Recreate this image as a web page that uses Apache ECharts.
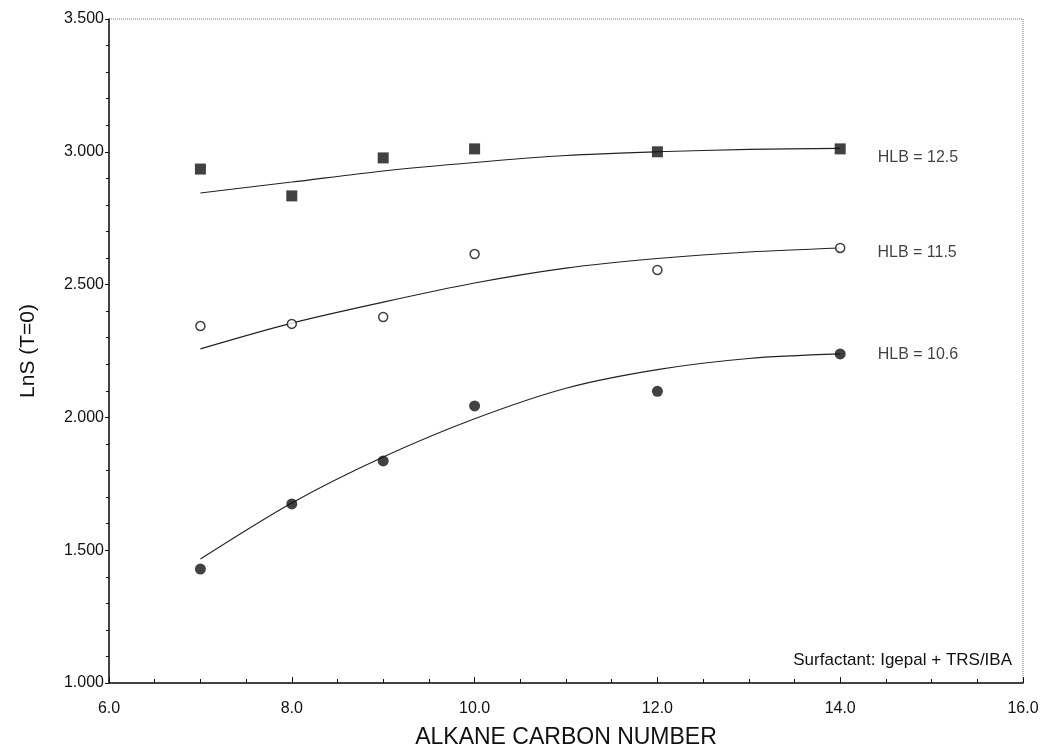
<!DOCTYPE html>
<html>
<head>
<meta charset="utf-8">
<title>LnS (T=0) vs Alkane Carbon Number</title>
<script src="https://cdn.jsdelivr.net/npm/echarts@6/dist/echarts.min.js"></script>
<style>
  html, body { margin: 0; padding: 0; background: #fff; }
  #chart { width: 1045px; height: 753px; }
</style>
</head>
<body>
<div id="chart"></div>
<script>
// Measured points: alkane carbon number vs LnS (T=0)
const carbonNumbers = [7, 8, 9, 10, 12, 14];
const hlb125Points = [2.935, 2.834, 2.977, 3.011, 3.000, 3.011];
const hlb115Points = [2.344, 2.352, 2.378, 2.615, 2.555, 2.638];
const hlb106Points = [1.429, 1.674, 1.836, 2.043, 2.098, 2.239];

// Fitted curves through each series
const fitCarbon = [7, 8, 9, 10, 11, 12, 13, 14];
const hlb125Fit = [2.845, 2.886, 2.928, 2.960, 2.986, 3.000, 3.009, 3.013];
const hlb115Fit = [2.258, 2.355, 2.434, 2.506, 2.562, 2.598, 2.623, 2.638];
const hlb106Fit = [1.467, 1.678, 1.851, 1.995, 2.110, 2.180, 2.222, 2.239];

const seriesNames = ['HLB = 12.5', 'HLB = 11.5', 'HLB = 10.6'];
const yTickLabels = ['1.000', '1.500', '2.000', '2.500', '3.000', '3.500'];
const xTickLabels = ['6.0', '8.0', '10.0', '12.0', '14.0', '16.0'];
const noteText = 'Surfactant: Igepal + TRS/IBA';

const FONT = '"Liberation Sans", Arial, Helvetica, sans-serif';

function pairs(xs, ys) { return xs.map((x, i) => [x, ys[i]]); }

// Attach the HLB label to the last measured point of a series
function withEndLabel(xs, ys, text, dy) {
  return xs.map((x, i) => {
    if (i !== xs.length - 1) return [x, ys[i]];
    return {
      value: [x, ys[i]],
      label: {
        show: true, position: 'right', distance: 32, offset: [0, dy],
        formatter: text, color: '#111', fontFamily: FONT, fontSize: 16
      }
    };
  });
}

function fitLine(ys) {
  return {
    type: 'line', data: pairs(fitCarbon, ys), smooth: 0.3,
    showSymbol: false, silent: true, z: 1,
    lineStyle: { color: '#222', width: 1.1 }
  };
}

const chart = echarts.init(document.getElementById('chart'), null, { renderer: 'canvas' });

chart.setOption({
  animation: false,
  backgroundColor: '#fff',
  grid: {
    left: 109, right: 22, top: 19, bottom: 70,
    outerBoundsMode: 'none',
    show: true, borderColor: '#777', borderWidth: 1, borderType: 'dotted'
  },
  xAxis: {
    type: 'value', min: 6, max: 16, interval: 2,
    name: 'ALKANE CARBON NUMBER', nameLocation: 'middle', nameGap: 43,
    nameTextStyle: { fontFamily: FONT, fontSize: 23, color: '#111' },
    axisLine: { lineStyle: { color: '#111', width: 1.5 } },
    axisTick: { inside: true, length: 6, lineStyle: { color: '#111' } },
    minorTick: { show: true, splitNumber: 4, length: 4, lineStyle: { color: '#111' } },
    splitLine: { show: false },
    axisLabel: {
      fontFamily: FONT, fontSize: 16, color: '#111', margin: 18,
      formatter: v => xTickLabels[Math.round((v - 6) / 2)]
    }
  },
  yAxis: {
    type: 'value', min: 1, max: 3.5, interval: 0.5,
    name: 'LnS (T=0)', nameLocation: 'middle', nameGap: 70, nameRotate: 90,
    nameTextStyle: { fontFamily: FONT, fontSize: 21, color: '#111' },
    axisLine: { show: true, lineStyle: { color: '#111', width: 1.5 } },
    axisTick: { show: true, length: 4, lineStyle: { color: '#111' } },
    minorTick: { show: true, splitNumber: 5, length: 3, lineStyle: { color: '#111' } },
    splitLine: { show: false },
    axisLabel: {
      fontFamily: FONT, fontSize: 16, color: '#111', margin: 5,
      formatter: v => yTickLabels[Math.round((v - 1) / 0.5)]
    }
  },
  series: [
    fitLine(hlb125Fit),
    fitLine(hlb115Fit),
    fitLine(hlb106Fit),
    {
      name: seriesNames[0], type: 'scatter', symbol: 'rect', symbolSize: 11, z: 3,
      itemStyle: { color: '#111' },
      data: withEndLabel(carbonNumbers, hlb125Points, seriesNames[0], 9)
    },
    {
      name: seriesNames[1], type: 'scatter', symbol: 'circle', symbolSize: 9, z: 3,
      itemStyle: { color: '#fff', borderColor: '#111', borderWidth: 1.5 },
      data: withEndLabel(carbonNumbers, hlb115Points, seriesNames[1], 5)
    },
    {
      name: seriesNames[2], type: 'scatter', symbol: 'circle', symbolSize: 11, z: 3,
      itemStyle: { color: '#111' },
      data: withEndLabel(carbonNumbers, hlb106Points, seriesNames[2], 1)
    }
  ],
  graphic: [
    {
      type: 'text', right: 33, top: 652,
      style: { text: noteText, fill: '#111', font: '17px ' + FONT }
    }
  ]
});
</script>
</body>
</html>
